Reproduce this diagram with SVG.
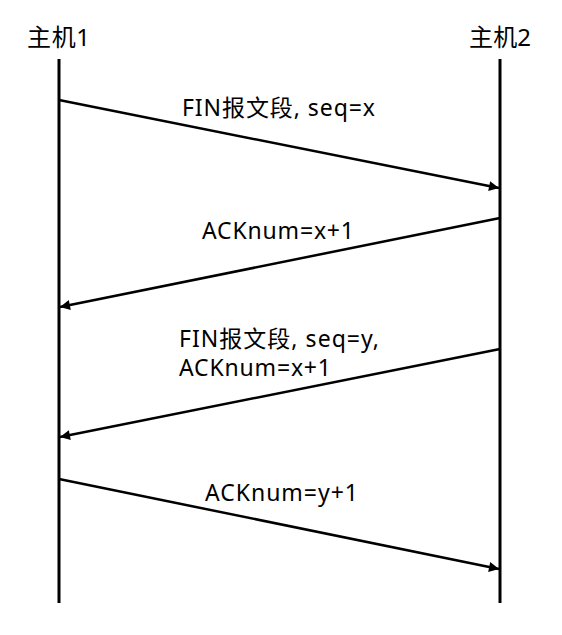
<svg xmlns="http://www.w3.org/2000/svg" width="562" height="635" viewBox="0 0 562 635">
<style>
.t{font-family:"Noto Sans","Noto Sans CJK SC",sans-serif;font-size:23px;fill:#000}
.h{font-family:"Noto Sans","Noto Sans CJK SC",sans-serif;font-size:24px;fill:#000}
.life{stroke:#000;stroke-width:3;fill:none}
.msg{stroke:#000;stroke-width:2.5;fill:none}
</style>
<defs>
<marker id="ah" viewBox="0 0 10 10" refX="10" refY="5" markerWidth="5" markerHeight="4" orient="auto" markerUnits="strokeWidth">
<path d="M0,0 L10,5 L0,10 Z" fill="#000"/>
</marker>
</defs>
<g id="host1">
<text class="h" x="27" y="46" textLength="63">主机1</text>
<line class="life" x1="59" y1="59" x2="59" y2="603"/>
</g>
<g id="host2">
<text class="h" x="469" y="46" textLength="62">主机2</text>
<line class="life" x1="500" y1="59" x2="500" y2="603"/>
</g>
<g id="connectors">
<line class="msg" x1="59" y1="100" x2="499" y2="188" marker-end="url(#ah)"/>
<line class="msg" x1="500" y1="218" x2="60" y2="307" marker-end="url(#ah)"/>
<line class="msg" x1="500" y1="349" x2="60" y2="437" marker-end="url(#ah)"/>
<line class="msg" x1="59" y1="479" x2="499" y2="569" marker-end="url(#ah)"/>
</g>
<g id="labels">
<text class="t" x="182" y="116" textLength="193">FIN报文段, seq=x</text>
<text class="t" x="202" y="239" textLength="152">ACKnum=x+1</text>
<text class="t" x="179" y="347" textLength="200">FIN报文段, seq=y,</text>
<text class="t" x="179" y="376" textLength="152">ACKnum=x+1</text>
<text class="t" x="205" y="501" textLength="153">ACKnum=y+1</text>
</g>
</svg>
